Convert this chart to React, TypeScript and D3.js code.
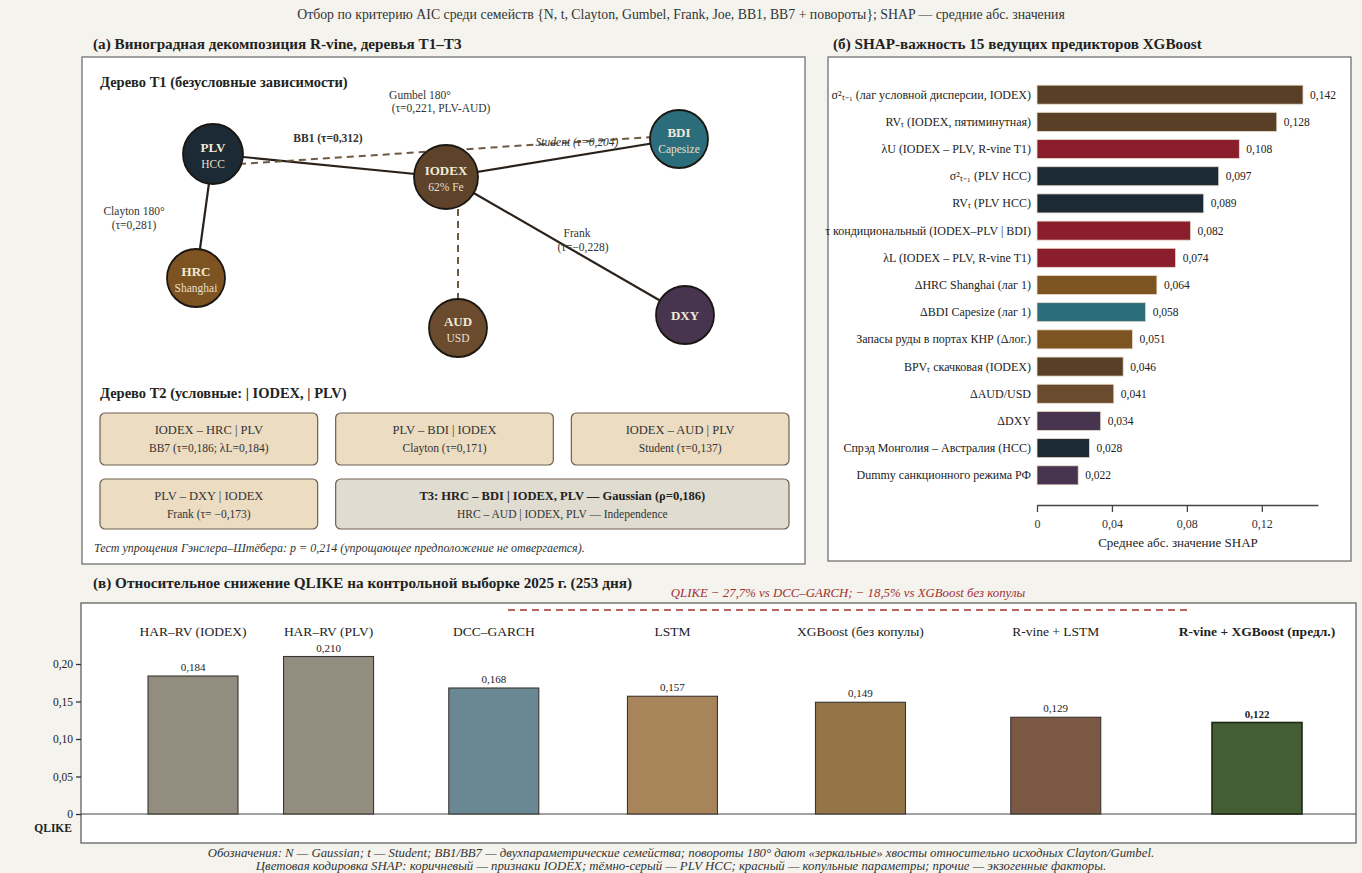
import React, { useEffect, useRef } from 'react';
import * as d3 from 'd3';

// ---- data ----
const topCaption = 'Отбор по критерию AIC среди семейств {N, t, Clayton, Gumbel, Frank, Joe, BB1, BB7 + повороты}; SHAP — средние абс. значения';

const vineNodes = ['PLV', 'IODEX', 'BDI', 'HRC', 'AUD', 'DXY'];
const vineNodeSubs = ['HCC', '62% Fe', 'Capesize', 'Shanghai', 'USD', ''];
const vineNodeColors = ['#1c2a35', '#5e432a', '#2b6d7a', '#7c5321', '#6a4b2d', '#47344f'];

const vineEdges = [
  { source: 'PLV', target: 'IODEX', dashed: false },
  { source: 'IODEX', target: 'BDI', dashed: false },
  { source: 'PLV', target: 'HRC', dashed: false },
  { source: 'IODEX', target: 'DXY', dashed: false },
  { source: 'PLV', target: 'BDI', dashed: true },
  { source: 'IODEX', target: 'AUD', dashed: true },
];

const t2Pairs = ['IODEX – HRC | PLV', 'PLV – BDI | IODEX', 'IODEX – AUD | PLV', 'PLV – DXY | IODEX'];
const t2Copulas = ['BB7 (τ=0,186; λL=0,184)', 'Clayton (τ=0,171)', 'Student (τ=0,137)', 'Frank (τ= −0,173)'];
const t3Lines = ['T3: HRC – BDI | IODEX, PLV — Gaussian (ρ=0,186)', 'HRC – AUD | IODEX, PLV — Independence'];

const shapLabels = [
  'σ²ₜ₋₁ (лаг условной дисперсии, IODEX)',
  'RVₜ (IODEX, пятиминутная)',
  'λU (IODEX – PLV, R-vine T1)',
  'σ²ₜ₋₁ (PLV HCC)',
  'RVₜ (PLV HCC)',
  'τ кондициональный (IODEX–PLV | BDI)',
  'λL (IODEX – PLV, R-vine T1)',
  'ΔHRC Shanghai (лаг 1)',
  'ΔBDI Capesize (лаг 1)',
  'Запасы руды в портах КНР (Δлог.)',
  'BPVₜ скачковая (IODEX)',
  'ΔAUD/USD',
  'ΔDXY',
  'Спрэд Монголия – Австралия (HCC)',
  'Dummy санкционного режима РФ',
];
const shapValues = [0.142, 0.128, 0.108, 0.097, 0.089, 0.082, 0.074, 0.064, 0.058, 0.051, 0.046, 0.041, 0.034, 0.028, 0.022];
const shapGroups = ['iodex', 'iodex', 'copula', 'plv', 'plv', 'copula', 'copula', 'hrc', 'bdi', 'hrc', 'iodex', 'aud', 'dxy', 'plv', 'dxy'];
const shapTicks = [0, 0.04, 0.08, 0.12];

const qlikeModels = ['HAR–RV (IODEX)', 'HAR–RV (PLV)', 'DCC–GARCH', 'LSTM', 'XGBoost (без копулы)', 'R-vine + LSTM', 'R-vine + XGBoost (предл.)'];
const qlikeValues = [0.184, 0.21, 0.168, 0.157, 0.149, 0.129, 0.122];
const qlikeTicks = [0, 0.05, 0.1, 0.15, 0.2];

const footer = [
  'Обозначения: N — Gaussian; t — Student; BB1/BB7 — двухпараметрические семейства; повороты 180° дают «зеркальные» хвосты относительно исходных Clayton/Gumbel.',
  'Цветовая кодировка SHAP: коричневый — признаки IODEX; тёмно-серый — PLV HCC; красный — копульные параметры; прочие — экзогенные факторы.',
];

// ---- layout / style ----
const W = 1362;
const H = 873;
const FONT = '"Liberation Serif", "Times New Roman", serif';

const groupColor = {
  iodex: '#5a3f27', copula: '#8a1e2b', plv: '#1c2a35', hrc: '#7c5321',
  bdi: '#2b6d7a', aud: '#6a4b2d', dxy: '#47344f',
};
const qlikeColors = ['#928d7f', '#928d7f', '#6a8894', '#a8845a', '#937548', '#7a5844', '#455d33'];

// node placement in the tree panel
const nodePos = {
  PLV: [213, 154, 30], IODEX: [446, 177, 32], BDI: [679, 139, 29],
  HRC: [196, 278, 29], AUD: [458, 328, 29], DXY: [685, 315, 29],
};

const fmt = (v, d) => d3.format(`.${d}f`)(v).replace('.', ',');

const App = () => {
  const shapAxisRef = useRef(null);
  const qAxisRef = useRef(null);

  // SHAP scales
  const sx = d3.scaleLinear().domain([0, 0.15]).range([1037, 1318]);
  const sy = d3.scaleBand().domain(shapLabels).range([77, 493]).padding(0.3);

  // QLIKE scales
  const qy = d3.scaleLinear().domain([0, 0.2]).range([814, 664]);
  const qx = d3.scalePow().exponent(1.15).domain([0, qlikeModels.length - 1]).range([193, 1257]);
  const barW = 90;

  useEffect(() => {
    const ax = d3.select(shapAxisRef.current);
    ax.selectAll('*').remove();
    ax.call(d3.axisBottom(sx).tickValues(shapTicks).tickSize(7).tickSizeOuter(0)
      .tickFormat(d => (d === 0 ? '0' : fmt(d, 2))));
    ax.selectAll('text').attr('font-family', FONT).attr('font-size', 12).attr('fill', '#333').attr('dy', '1.1em');
    ax.selectAll('line, path').attr('stroke', '#444').attr('stroke-width', 1.3);

    const qa = d3.select(qAxisRef.current);
    qa.selectAll('*').remove();
    qa.call(d3.axisLeft(qy).tickValues(qlikeTicks).tickSize(5).tickSizeOuter(0)
      .tickFormat(d => (d === 0 ? '0' : fmt(d, 2))));
    qa.select('.domain').remove();
    qa.selectAll('text').attr('font-family', FONT).attr('font-size', 11.5).attr('fill', '#222');
    qa.selectAll('line').attr('stroke', '#333').attr('stroke-width', 1.3);
  }, []);

  const colW = (789 - 100 - 36) / 3;
  const colX = i => 100 + i * (colW + 18);

  return (
    <svg width={W} height={H} style={{ position: 'fixed', left: 0, top: 0, display: 'block' }} fontFamily={FONT}>
      <rect width={W} height={H} fill="#f4f3ee" />
      <text x={W / 2} y={19} textAnchor="middle" fontSize={13.8} fill="#333">{topCaption}</text>

      {/* panel titles */}
      <text x={93} y={49} fontSize={15.2} fontWeight="bold" fill="#222">(а) Виноградная декомпозиция R-vine, деревья T1–T3</text>
      <text x={833} y={49} fontSize={15.2} fontWeight="bold" fill="#222">(б) SHAP-важность 15 ведущих предикторов XGBoost</text>
      <text x={93} y={588} fontSize={15.2} fontWeight="bold" fill="#222">(в) Относительное снижение QLIKE на контрольной выборке 2025 г. (253 дня)</text>

      {/* panel (a) */}
      <rect x={82} y={57} width={723} height={507} fill="#fff" stroke="#666" strokeWidth={1.2} />
      <text x={100} y={87} fontSize={14.5} fontWeight="bold" fill="#222">Дерево T1 (безусловные зависимости)</text>

      {vineEdges.map((e, i) => {
        const [x1, y1, r1] = nodePos[e.source];
        const [x2, y2] = nodePos[e.target];
        const toAud = e.dashed && e.target === 'AUD';
        const plvBdi = e.dashed && e.target === 'BDI';
        return (
          <line key={i}
            x1={toAud ? x2 : plvBdi ? x1 + 26 : x1}
            y1={toAud ? y1 + r1 : plvBdi ? y1 + 10 : y1}
            x2={plvBdi ? x2 - 26 : x2}
            y2={plvBdi ? y2 - 2 : y2}
            stroke={e.dashed ? '#6f5a41' : '#2a211a'}
            strokeWidth={e.dashed ? 2 : 2.2}
            strokeDasharray={e.dashed ? '7,5' : null} />
        );
      })}

      {vineNodes.map((n, i) => {
        const [cx, cy, r] = nodePos[n];
        const sub = vineNodeSubs[i];
        return (
          <g key={n}>
            <circle cx={cx} cy={cy} r={r} fill={vineNodeColors[i]} stroke="#1a1612" strokeWidth={1.8} />
            <text x={cx} y={sub ? cy - 2 : cy + 5} textAnchor="middle" fontSize={13} fontWeight="bold" fill="#f2ead8">{n}</text>
            {sub && <text x={cx} y={cy + 14} textAnchor="middle" fontSize={11.5} fill="#e8dfcc">{sub}</text>}
          </g>
        );
      })}

      <g fontSize={11.5} fill="#333" textAnchor="middle">
        <text x={328} y={142} fontWeight="bold">BB1 (τ=0,312)</text>
        <text x={420} y={99}>Gumbel 180°</text>
        <text x={441} y={112}>(τ=0,221, PLV-AUD)</text>
        <text x={577} y={146} fontStyle="italic">Student (τ=0,204)</text>
        <text x={134} y={215}>Clayton 180°</text>
        <text x={134} y={229}>(τ=0,281)</text>
        <text x={577} y={237}>Frank</text>
        <text x={583} y={251}>(τ=−0,228)</text>
      </g>

      <text x={100} y={398} fontSize={14.5} fontWeight="bold" fill="#222">Дерево T2 (условные: | IODEX, | PLV)</text>
      {t2Pairs.map((p, i) => {
        const col = i % 3;
        const row = Math.floor(i / 3);
        const x = colX(col);
        const y = row === 0 ? 413 : 479;
        const h = row === 0 ? 52 : 50;
        return (
          <g key={p}>
            <rect x={x} y={y} width={colW} height={h} rx={5} fill="#ecdcc2" stroke="#6e6052" strokeWidth={1.2} />
            <text x={x + colW / 2} y={y + 21} textAnchor="middle" fontSize={12.5} fill="#333">{p}</text>
            <text x={x + colW / 2} y={y + 39} textAnchor="middle" fontSize={11.5} fill="#333">{t2Copulas[i]}</text>
          </g>
        );
      })}
      <rect x={colX(1)} y={479} width={colX(2) + colW - colX(1)} height={50} rx={5} fill="#e0dcd0" stroke="#6e6052" strokeWidth={1.2} />
      <text x={(colX(1) + colX(2) + colW) / 2} y={500} textAnchor="middle" fontSize={12.5} fontWeight="bold" fill="#222">{t3Lines[0]}</text>
      <text x={(colX(1) + colX(2) + colW) / 2} y={518} textAnchor="middle" fontSize={11.5} fill="#333">{t3Lines[1]}</text>
      <text x={94} y={552} fontSize={12} fontStyle="italic" fill="#333">Тест упрощения Гэнслера–Штёбера: p = 0,214 (упрощающее предположение не отвергается).</text>

      {/* panel (б) */}
      <rect x={828} y={57} width={523} height={504} fill="#fff" stroke="#666" strokeWidth={1.2} />
      {shapLabels.map((l, i) => (
        <g key={l}>
          <rect x={sx(0)} y={sy(l)} width={sx(shapValues[i]) - sx(0)} height={sy.bandwidth()}
            fill={groupColor[shapGroups[i]]} stroke="#e9dccb" strokeWidth={0.8} />
          <text x={sx(0) - 6} y={sy(l) + sy.bandwidth() / 2 + 4} textAnchor="end" fontSize={12} fill="#222">{l}</text>
          <text x={sx(shapValues[i]) + 7} y={sy(l) + sy.bandwidth() / 2 + 4} fontSize={11.5} fill="#222">{fmt(shapValues[i], 3)}</text>
        </g>
      ))}
      <g ref={shapAxisRef} transform="translate(0,505)" />
      <text x={1178} y={547} textAnchor="middle" fontSize={13} fill="#222">Среднее абс. значение SHAP</text>

      {/* panel (в) */}
      <text x={848} y={597} textAnchor="middle" fontSize={12.8} fontStyle="italic" fill="#a23030">
        QLIKE − 27,7% vs DCC–GARCH; − 18,5% vs XGBoost без копулы
      </text>
      <rect x={81} y={603} width={1275} height={240} fill="#fff" stroke="#555" strokeWidth={1.2} />
      <line x1={508} x2={1188} y1={610} y2={610} stroke="#a23030" strokeWidth={1.6} strokeDasharray="7,5" />
      <line x1={81} x2={1356} y1={qy(0)} y2={qy(0)} stroke="#444" strokeWidth={1.2} />
      <g ref={qAxisRef} transform="translate(81,0)" />
      <text x={72} y={832} textAnchor="end" fontSize={11.5} fontWeight="bold" fill="#222">QLIKE</text>
      {qlikeModels.map((m, i) => {
        const last = i === qlikeModels.length - 1;
        const cx = qx(i);
        return (
          <g key={m}>
            <text x={cx} y={636} textAnchor="middle" fontSize={13.5} fontWeight={last ? 'bold' : 'normal'} fill="#222">{m}</text>
            <rect x={cx - barW / 2} y={qy(qlikeValues[i])} width={barW} height={qy(0) - qy(qlikeValues[i])}
              fill={qlikeColors[i]} stroke={last ? '#1e2a16' : '#3a3530'} strokeWidth={last ? 1.6 : 1.1} />
            <text x={cx} y={qy(qlikeValues[i]) - 5} textAnchor="middle" fontSize={11} fontWeight={last ? 'bold' : 'normal'} fill="#222">
              {fmt(qlikeValues[i], 3)}
            </text>
          </g>
        );
      })}

      {footer.map((f, i) => (
        <text key={i} x={W / 2} y={857 + i * 13} textAnchor="middle" fontSize={12.8} fontStyle="italic" fill="#333">{f}</text>
      ))}
    </svg>
  );
};

export default App;
